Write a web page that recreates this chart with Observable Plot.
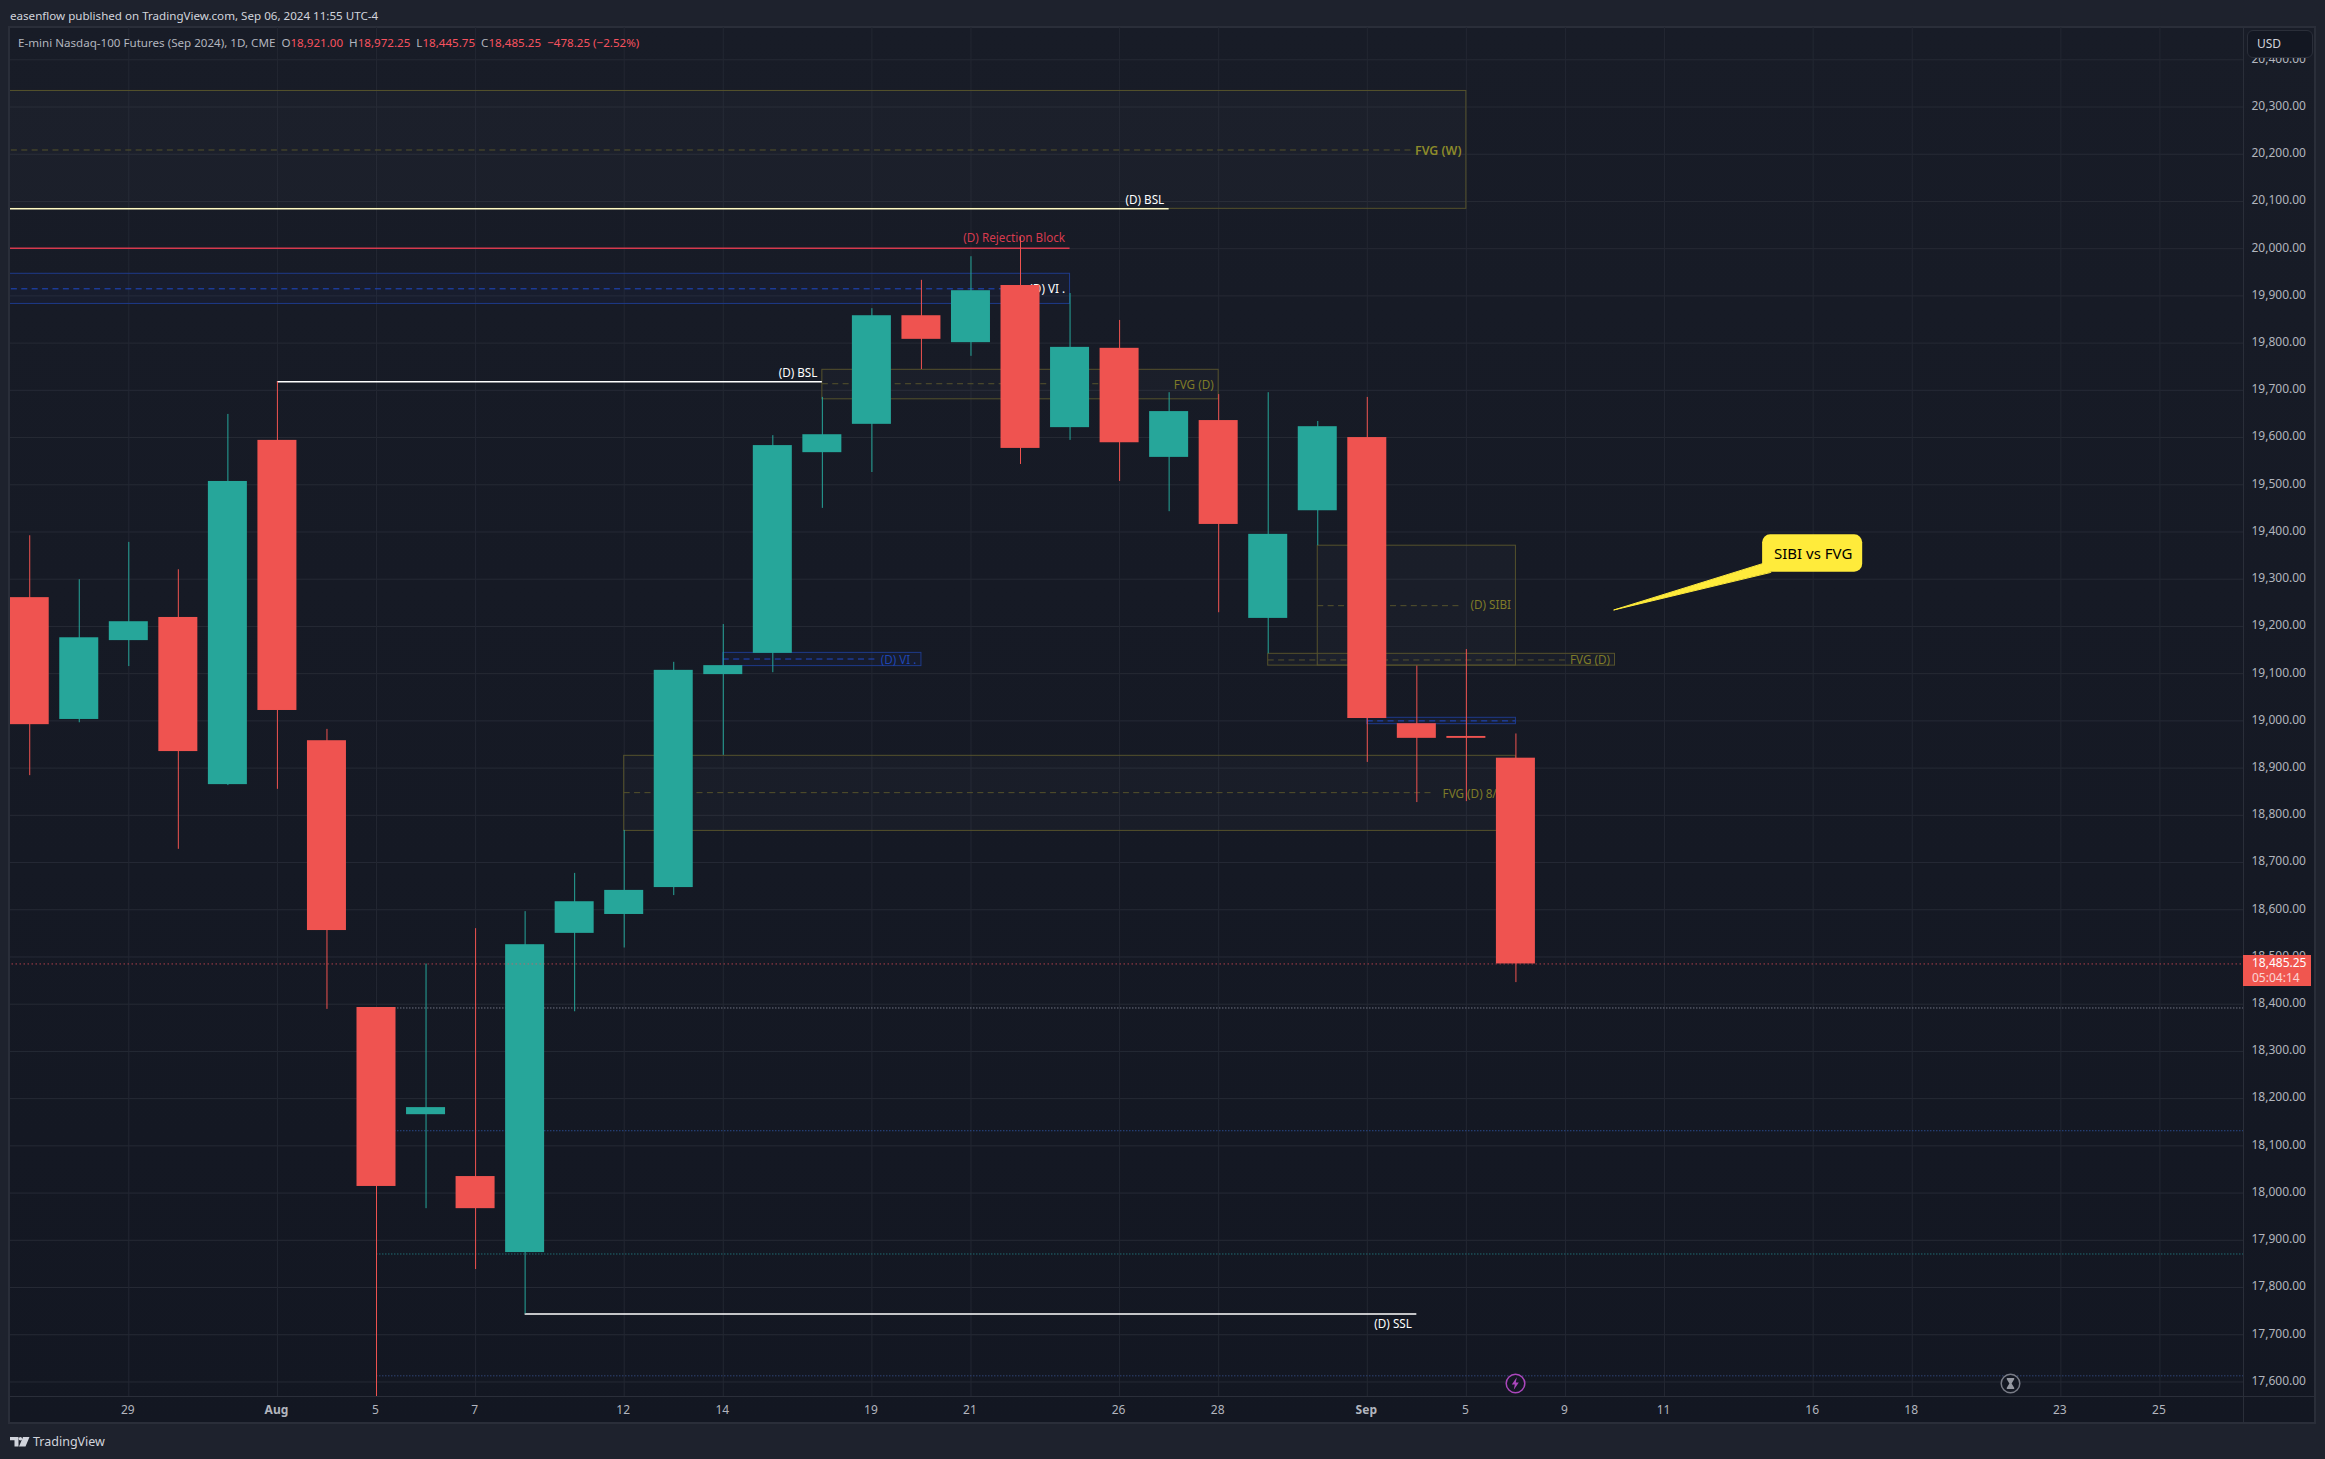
<!DOCTYPE html>
<html>
<head>
<meta charset="utf-8">
<script src="https://cdn.jsdelivr.net/npm/d3@7"></script>
<script src="https://cdn.jsdelivr.net/npm/@observablehq/plot@0.6"></script>
<style>
html,body{margin:0;padding:0;background:#1e222d;width:2325px;height:1459px;overflow:hidden;font-family:"Noto Sans",sans-serif}
#panel{position:absolute;left:8px;top:26px;width:2304px;height:1394px;border:2px solid #2a2e39;background:linear-gradient(#181c27,#131722)}
#chart{position:absolute;left:0;top:0}
.abs{position:absolute;white-space:nowrap}
.hline{position:absolute;background:#2a2e39}
#head{left:10px;top:7px;font-size:11.6px;line-height:18px;color:#d1d4dc}
#legend{left:18px;top:34px;font-size:11.6px;line-height:18px;color:#b2b5be}
#legend b{font-weight:400;color:#f7525f}
#usd{left:2247px;top:30px;width:55px;height:26px;padding-left:9px;border:1px solid #2a2e39;border-radius:6px;background:#131722;color:#d1d4dc;font-size:12px;line-height:26px}
#tag{left:2243px;width:59px;padding-left:9px;height:31px;background:#f0564f;color:#fff;font-size:12px;line-height:15px}
#tag span{opacity:.75}
#brand{left:33px;top:1433px;font-size:12.5px;line-height:18px;color:#d1d4dc}
</style>
</head>
<body>
<div id="panel"></div>
<div id="chart"></div>
<div class="hline" style="left:10px;top:1396px;width:2304px;height:1px"></div>
<div class="hline" style="left:2243px;top:28px;width:1px;height:1394px"></div>
<div class="abs" id="head">easenflow published on TradingView.com, Sep 06, 2024 11:55 UTC-4</div>
<div class="abs" id="legend"></div>
<div class="abs" id="usd">USD</div>
<div class="abs" id="tag"></div>
<svg class="abs" style="left:10px;top:1437px" width="20" height="10" viewBox="0 0 20 10"><path fill="#d1d4dc" d="M0 0h8.5v9.5H4.5V3.2H0zM13 0h6.5l-4 9.5H9zM10.4 0a1.7 1.7 0 1 1 0 3.4a1.7 1.7 0 0 1 0-3.4z"/></svg>
<div class="abs" id="brand">TradingView</div>
<svg class="abs" style="left:1505px;top:1373px" width="21" height="21" viewBox="0 0 21 21"><circle cx="10.5" cy="10.5" r="9.3" fill="#131722" stroke="#ab47bc" stroke-width="1.5"/><path fill="#ab47bc" d="M11.8 4.2L6.8 11.6h3l-1 5.2l5-7.4h-3z"/></svg>
<svg class="abs" style="left:2000px;top:1373px" width="21" height="21" viewBox="0 0 21 21"><circle cx="10.5" cy="10.5" r="9.3" fill="#131722" stroke="#787b86" stroke-width="1.5"/><path fill="#9598a1" d="M6.8 5h7.4v1.2l-2.6 4.3l2.6 4.3V16H6.8v-1.2l2.6-4.3l-2.6-4.3z"/></svg>
<script>
// Session of each candle (bar offset from Jul 29 is its position minus 2)
const sessions = ["Jul 25","Jul 26","Jul 29","Jul 30","Jul 31","Aug 1","Aug 2","Aug 5","Aug 6","Aug 7","Aug 8","Aug 9","Aug 12","Aug 13","Aug 14","Aug 15","Aug 16","Aug 19","Aug 20","Aug 21","Aug 22","Aug 23","Aug 26","Aug 27","Aug 28","Aug 29","Aug 30","Sep 3","Sep 4","Sep 5","Sep 6"];
const opens  = [19261,19003,19170,19219,18865,19594,18958,18393,18166,18035,17874,18550,18590,18647,19098,19143,19568,19628,19858,19801,19922,19621,19789,19558,19636,19217,19445,19600,18994,18967,18921];
const highs  = [19392,19299,19378,19320,19649,19718,18982,18393,18485,18560,18596,18677,18768,19124,19204,19604,19685,19873,19933,19983,20024,19905,19848,19695,19691,19695,19634,19685,19116,19151,18972.25];
const lows   = [18884,18996,19115,18728,18863,18855,18389,17569,17967,17838,17744,18384,18519,18630,18927,19102,19450,19526,19744,19772,19543,19594,19507,19443,19229,19142,19371,18912,18827,18829,18445.75];
const closes = [18992,19176,19210,18935,19507,19022,18556,18014,18181,17967,18526,18617,18641,19107,19117,19583,19606,19858,19808,19911,19577,19791,19589,19655,19416,19395,19623,19005,18963,18963,18485.25];
const lastPrice = 18485.25;

const priceTicks = [17600,17700,17800,17900,18000,18100,18200,18300,18400,18500,18600,18700,18800,18900,19000,19100,19200,19300,19400,19500,19600,19700,19800,19900,20000,20100,20200,20300,20400];
const timeTicks  = [0,3,5,7,10,12,15,17,20,22,25,27,29,31,34,36,39,41];
const timeLabels = ["29","Aug","5","7","12","14","19","21","26","28","Sep","5","9","11","16","18","23","25"];
const boldTicks  = ["Aug","Sep"];

// Olive zones: FVG (W), FVG (D), (D) SIBI, FVG (D), FVG (D) 8/
const oliveLeft  = [-3,14,24,23,10];
const oliveRight = [27,22,28,30,28];
const oliveTop   = [20334,19743.5,19371,19142,18926];
const oliveBot   = [20084.4,19681,19117,19117,18767];
const oliveMid   = [20209,19714,19244,19129,18848];
const oliveMidEnd= [25.9,19.8,26.9,29,26.3];

// Blue volume-imbalance zones
const blueLeft  = [-3,12,25];
const blueRight = [19,16,28];
const blueTop   = [19946.8,19144,19006.5];
const blueBot   = [19883,19116,18993];
const blueMid   = [19915,19131,19000];
const blueMidEnd= [17.7,15.1,28];

// Solid level lines
const lineNames = ["(D) BSL","(D) Rejection Block","(D) BSL","(D) SSL"];
const lineLeft  = [-3,-3,3,8];
const lineRight = [21,19,14,26];
const lineY     = [20084.4,20001,19718,17744];
const lineCols  = ["#fff9c4","#d63a4e","#ffffff","#ffffff"];

// Dotted levels running to the price axis
const dotY    = [18392,18132,17871,17613];
const dotLeft = [5,5,5,5];
const dotCols = ["#6f7280","#2a4a8a","#1f6b72","#2e4375"];

// Text labels of zones and levels
const noteText = ["FVG (W)","(D) BSL","(D) Rejection Block","(D) VI .","(D) BSL","FVG (D)","(D) VI .","(D) SIBI","FVG (D)","FVG (D) 8/","(D) SSL"];
const noteX    = [26.9,20.9,18.9,18.9,13.9,21.9,15.9,27.9,29.9,26.52,25.9];
const noteY    = [20207,20103,20022,19915,19737,19711,19129,19244,19128,18845,17723];
const noteCol  = ["#8d8b2a","#ffffff","#d63a4e","#ffffff","#ffffff","#7f7b28","#1e46b4","#7f7b28","#7f7b28","#7f7b28","#ffffff"];
const noteAnch = ["end","end","end","end","end","end","end","end","end","start","end"];
const noteBold = [600,400,400,400,400,400,400,400,400,400,400];

// Callout
const calloutText = "SIBI vs FVG";
const calloutBox = {x1:32.98,x2:35.0,y1:19394,y2:19315,tx:34.0,ty:19354};
const calloutTail = [{x:29.98,y:19235},{x:32.98,y:19333},{x:33.14,y:19315}];

const bars = sessions.map((s,i)=>({i:i-2,o:opens[i],h:highs[i],l:lows[i],c:closes[i],col:closes[i]>=opens[i]?"#26a69a":"#ef5350"}));
const half = 0.3936;
const olive = oliveLeft.map((_,i)=>({x1:oliveLeft[i],x2:oliveRight[i],y1:oliveTop[i],y2:oliveBot[i],m:oliveMid[i],e:oliveMidEnd[i]}));
const blue  = blueLeft.map((_,i)=>({x1:blueLeft[i],x2:blueRight[i],y1:blueTop[i],y2:blueBot[i],m:blueMid[i],e:blueMidEnd[i]}));
const lines = lineNames.map((n,i)=>({x1:lineLeft[i],x2:lineRight[i],y:lineY[i],c:lineCols[i]}));
const dots  = dotY.map((y,i)=>({y,x1:dotLeft[i],c:dotCols[i]}));
const notes = noteText.map((t,i)=>({t,x:noteX[i],y:noteY[i],c:noteCol[i],a:noteAnch[i],w:noteBold[i]}));
const priceFmt = d3.format(",.2f");
const labelOf = d=>timeLabels[timeTicks.indexOf(d)];
const axisXMax = 42.687;

const noteMarks = d3.groups(notes,d=>d.a+"|"+d.w).map(([k,rows])=>Plot.text(rows,{x:"x",y:"y",text:"t",fill:"c",clip:true,
  textAnchor:rows[0].a,fontSize:rows[0].w>400?12.4:11.7,fontWeight:rows[0].w}));

const plot = Plot.plot({
  width:2325,height:1459,marginLeft:10,marginRight:82,marginTop:27,marginBottom:63,
  style:{background:"transparent",fontFamily:'"Noto Sans",sans-serif',color:"#b2b5be"},
  x:{type:"linear",domain:[-2.388,axisXMax],range:[10,2243]},
  y:{type:"linear",domain:[17569.2,20468.4],range:[1396,27]},
  marks:[
    Plot.gridY(priceTicks,{stroke:"#262a35",strokeOpacity:1}),
    Plot.gridX(timeTicks,{stroke:"#232732",strokeOpacity:1}),
    Plot.axisY(priceTicks,{anchor:"right",tickSize:0,tickPadding:8,dy:-1,tickFormat:priceFmt,fontSize:12,fill:"#b2b5be",label:null}),
    Plot.axisX(timeTicks.filter(d=>!boldTicks.includes(labelOf(d))),{anchor:"bottom",tickSize:0,tickPadding:9,dx:-1,tickFormat:labelOf,fontSize:12,fill:"#b2b5be",label:null}),
    Plot.axisX(timeTicks.filter(d=>boldTicks.includes(labelOf(d))),{anchor:"bottom",tickSize:0,tickPadding:9,dx:-1,tickFormat:labelOf,fontSize:12,fontWeight:700,fill:"#b2b5be",label:null}),

    Plot.rect(olive,{x1:"x1",x2:"x2",y1:"y1",y2:"y2",fill:"#ffffff",fillOpacity:0.018,stroke:"#55522c",strokeWidth:1,clip:true}),
    Plot.ruleY(olive,{y:"m",x1:"x1",x2:"e",stroke:"#55522c",strokeDasharray:"6 4.4",clip:true}),
    Plot.rect(blue,{x1:"x1",x2:"x2",y1:"y1",y2:"y2",fill:"#2962ff",fillOpacity:0.04,stroke:"#1e3a8a",strokeWidth:1,clip:true}),
    Plot.ruleY(blue,{y:"m",x1:"x1",x2:"e",stroke:"#1f49c8",strokeDasharray:"6 4.4",clip:true}),
    Plot.ruleY(dots,{y:"y",x1:"x1",x2:axisXMax,stroke:"c",strokeDasharray:"1.5 1.5",clip:true}),
    Plot.ruleY(lines.slice(0,2),{y:"y",x1:"x1",x2:"x2",stroke:"c",strokeWidth:1.5,clip:true}),
    Plot.ruleY(lines.slice(2),{y:"y",x1:"x1",x2:"x2",stroke:"c",strokeWidth:1.5,clip:true}),
    ...noteMarks,

    Plot.ruleX(bars,{x:"i",y1:"l",y2:"h",stroke:"col",strokeWidth:1,clip:true}),
    Plot.rect(bars,{x1:d=>d.i-half,x2:d=>d.i+half,y1:"o",y2:"c",fill:"col",clip:true}),
    Plot.ruleY([lastPrice],{x1:-3,x2:axisXMax,stroke:"#f7525f",strokeDasharray:"1 3",clip:true}),

    Plot.line(calloutTail,{x:"x",y:"y",z:null,fill:"#ffeb3b",stroke:"#ffeb3b",strokeWidth:1,curve:"linear-closed"}),
    Plot.rect([calloutBox],{x1:"x1",x2:"x2",y1:"y1",y2:"y2",fill:"#ffeb3b",rx:8}),
    Plot.text([calloutBox],{x:"tx",y:"ty",text:()=>calloutText,fill:"#000000",fontSize:15})
  ]
});
document.getElementById("chart").appendChild(plot);

// Legend and last-price tag, from the same data
const n = sessions.length-1, chg = closes[n]-closes[n-1];
document.getElementById("legend").innerHTML =
  'E-mini Nasdaq-100 Futures (Sep 2024), 1D, CME&nbsp; O<b>'+priceFmt(opens[n])+'</b>&nbsp; H<b>'+priceFmt(highs[n])+
  '</b>&nbsp; L<b>'+priceFmt(lows[n])+'</b>&nbsp; C<b>'+priceFmt(closes[n])+'</b>&nbsp; <b>\u2212478.25 (\u22122.52%)</b>';
const tag = document.getElementById("tag");
tag.innerHTML = priceFmt(lastPrice)+'<br><span>05:04:14</span>';
tag.style.top = (plot.scale("y").apply(lastPrice)-8.5)+"px";
</script>
</body>
</html>
